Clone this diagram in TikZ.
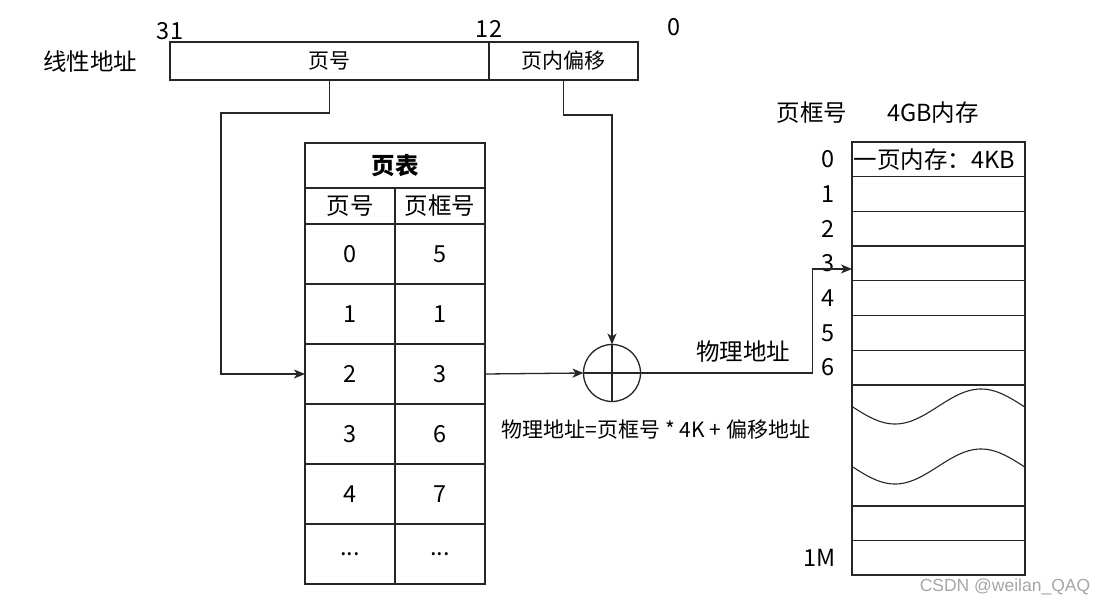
\documentclass[tikz,border=0pt]{standalone}
\usepackage{fontspec}
\setmainfont{Noto Sans CJK SC}
\newfontfamily\wmfont{Liberation Sans}
\usetikzlibrary{arrows.meta}
\newcommand\tdots{...}
\tikzset{
  big/.style={font=\fontsize{23.5}{26}\selectfont, inner sep=0pt},
  small/.style={font=\fontsize{21}{24}\selectfont, inner sep=0pt},
  box/.style={draw, rectangle, inner sep=0pt, outer sep=0pt, font=\fontsize{23.5}{26}\selectfont},
  arr/.style={-{Stealth[length=11pt,width=9pt,inset=3pt]}},
}
\begin{document}
\begin{tikzpicture}[x=1pt,y=-1pt,line width=1.3pt,line join=miter,draw=black!85]
\useasboundingbox[fill=white] (0,0) rectangle (1107,607);
% linear address
\node[big] (lbl) at (90,62) {线性地址};
\node[box, small, draw, minimum width=319pt, minimum height=38pt] (pn) at (329.5,61) {页号};
\node[box, small, draw, minimum width=149pt, minimum height=38pt] (off) at (563.5,61) {页内偏移};
\node[big] (b31) at (170,31) {31};
\node[big] (b12) at (489,29) {12};
\node[big] (b0) at (674,27) {0};
% page table
\node[box, minimum width=180pt, minimum height=45pt] (title) at (395,165.5) {\bfseries 页表};
\node[box, minimum width=90pt, minimum height=36pt] (ha) at (350,206) {页号};
\node[box, minimum width=90pt, minimum height=36pt] (hb) at (440,206) {页框号};
\foreach \i/\a/\b in {0/0/5,1/1/1,2/2/3,3/3/6,4/4/7,5/\tdots/\tdots}{
  \node[box, minimum width=90pt, minimum height=60pt] (r\i a) at (350,{254+60*\i}) {\a};
  \node[box, minimum width=90pt, minimum height=60pt] (r\i b) at (440,{254+60*\i}) {\b};
}
% combiner
\node[draw, circle, minimum size=57pt, inner sep=0pt, outer sep=0pt] (plus) at (612,373) {};
\draw (plus.north) -- (plus.south);
\draw (plus.west) -- (plus.east);
% memory
\node[big] (mhead) at (812,113) {页框号};
\node[big] (mcap) at (933,113) {4GB内存};
\foreach \k in {0,1,2,3,4,5,6}{
  \node[box, minimum width=173pt, minimum height=34.7pt] (m\k) at (938.5,{159.35+34.7*\k}) {};
  \node[big] (l\k) at ([xshift=-24pt]m\k.west) {\k};
}
\node[anchor=west, big, inner sep=1pt] (m0t) at (m0.west) {一页内存：4KB};
\node[box, minimum width=173pt, minimum height=121pt] (mw) at (938.5,445.5) {};
\node[box, minimum width=173pt, minimum height=34.5pt] (m7) at (938.5,523.25) {};
\node[box, minimum width=173pt, minimum height=34.5pt] (mM) at (938.5,557.75) {};
\node[big] (lM) at ([xshift=-32pt]mM.west) {1M};
\draw[line width=1.1pt] plot[domain=0:173, samples=80, smooth] ({852+\x}, {406.5+17.5*sin(2.0930233*\x)});
\draw[line width=1.1pt] plot[domain=0:173, samples=80, smooth] ({852+\x}, {466.5+17.5*sin(2.0930233*\x)});
% connectors
\draw[arr] (pn.south) -- ++(0,33) -| ([xshift=-84pt]r2a.west) -- (r2a.west);
\draw[arr] (off.south) -- ++(0,35) -| (plus.north);
\draw[arr] (r2b.east) -- (plus.west);
\draw[arr] (plus.east) -- ++(172,0) |- ([yshift=-5.5pt]m3.west);
% labels
\node[big] (phys) at (743,352) {物理地址};
\node[small] (formula) at (656,430) {物理地址=页框号 * 4K + 偏移地址};
\node[font=\wmfont\fontsize{17.5}{20}\selectfont, text=black!35, inner sep=0pt] (wm) at (1005,587) {CSDN @weilan\_QAQ};
\end{tikzpicture}
\end{document}
